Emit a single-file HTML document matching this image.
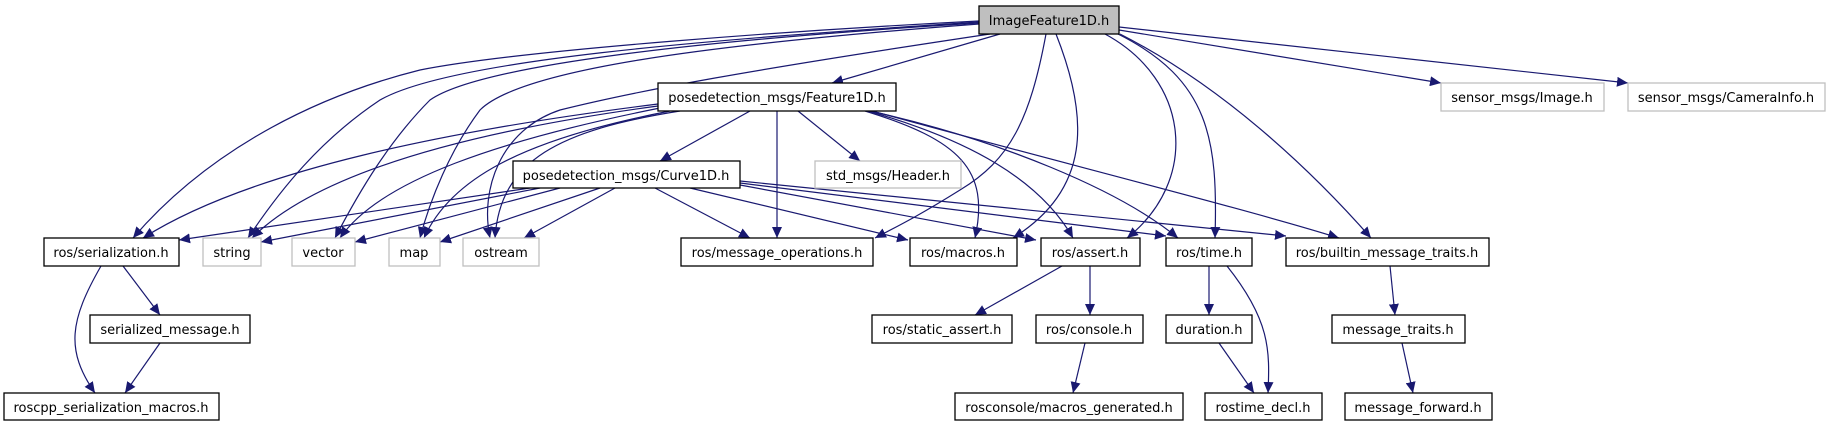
<!DOCTYPE html>
<html><head><meta charset="utf-8"><style>
html,body{margin:0;padding:0;background:#fff;}
svg{display:block;}
text{font-family:"DejaVu Sans","Liberation Sans",sans-serif;font-size:13px;fill:#000;}
.b{fill:#fff;stroke:#000;stroke-width:1.3;}
.g{fill:#fff;stroke:#bfbfbf;stroke-width:1.3;}
.e{fill:none;stroke:#191970;stroke-width:1.2;}
</style></head><body>
<svg width="1831" height="427" viewBox="0 0 1831 427" xmlns="http://www.w3.org/2000/svg">
<defs>
<marker id="a" markerUnits="userSpaceOnUse" markerWidth="12" markerHeight="10" refX="11" refY="5" orient="auto">
<path d="M0,0 L11,5 L0,10 z" fill="#191970"/>
</marker>
</defs>
<g class="e" marker-end="url(#a)">
<!-- ImageFeature1D edges -->
<path d="M1000,34 L832,83"/>
<path d="M979,21 C800,30 520,50 420,70 C300,100 200,160 133,238"/>
<path d="M979,22 C700,40 450,60 380,100 C320,140 280,190 248,238"/>
<path d="M979,23 C700,40 480,65 430,100 C390,140 360,190 335,238"/>
<path d="M979,24 C700,45 520,70 480,110 C450,150 430,200 420,238"/>
<path d="M990,34 C750,70 640,90 560,110 C500,130 480,190 490,238"/>
<path d="M1046,34 C1030,120 1010,160 960,190 C920,215 900,225 875,238"/>
<path d="M1056,34 C1090,120 1090,190 1013,238"/>
<path d="M1105,34 C1190,80 1200,180 1127,238"/>
<path d="M1118,34 C1210,80 1218,140 1215,238"/>
<path d="M1120,34 C1230,90 1320,180 1371,238"/>
<path d="M1119,30 L1441,83"/>
<path d="M1119,27 L1628,83"/>
<!-- Feature1D edges -->
<path d="M750,111 L660,161"/>
<path d="M798,111 L860,161"/>
<path d="M777,111 L777,238"/>
<path d="M658,104 C450,130 250,170 143,238"/>
<path d="M658,106 C480,130 320,170 252,238"/>
<path d="M660,108 C500,140 380,180 340,238"/>
<path d="M670,111 C520,140 450,180 424,238"/>
<path d="M680,111 C560,130 500,160 495,238"/>
<path d="M865,111 C960,140 990,170 975,238"/>
<path d="M868,111 C970,140 1040,180 1073,238"/>
<path d="M870,111 C1000,140 1120,190 1178,238"/>
<path d="M872,111 C1050,160 1250,210 1339,238"/>
<!-- Curve1D edges -->
<path d="M530,188 L179,240"/>
<path d="M540,188 L261,242"/>
<path d="M560,188 L355,242"/>
<path d="M600,188 L440,242"/>
<path d="M615,188 L524,238"/>
<path d="M655,188 L750,238"/>
<path d="M690,188 L908,240"/>
<path d="M740,185 L1036,240"/>
<path d="M740,183 L1166,236"/>
<path d="M740,181 L1286,236"/>
<!-- lower edges -->
<path d="M123,266 L160,315"/>
<path d="M101,266 C70,320 65,350 95,393"/>
<path d="M160,343 L125,393"/>
<path d="M1062,266 L975,315"/>
<path d="M1090,266 L1090,315"/>
<path d="M1085,343 L1073,393"/>
<path d="M1209,266 L1209,315"/>
<path d="M1227,266 C1270,320 1270,350 1268,393"/>
<path d="M1219,343 L1254,393"/>
<path d="M1390,266 L1395,315"/>
<path d="M1402,343 L1413,393"/>
</g>
<!-- nodes -->
<rect x="979" y="6" width="140" height="28" fill="#bfbfbf" stroke="#000" stroke-width="1.3"/>
<text x="1049" y="25" text-anchor="middle">ImageFeature1D.h</text>

<rect class="b" x="658" y="83" width="238" height="28"/><text x="777" y="102" text-anchor="middle">posedetection_msgs/Feature1D.h</text>
<rect class="g" x="1441" y="83" width="163" height="28"/><text x="1522" y="102" text-anchor="middle">sensor_msgs/Image.h</text>
<rect class="g" x="1628" y="83" width="197" height="28"/><text x="1726" y="102" text-anchor="middle">sensor_msgs/CameraInfo.h</text>

<rect class="b" x="513" y="161" width="227" height="27"/><text x="626" y="180" text-anchor="middle">posedetection_msgs/Curve1D.h</text>
<rect class="g" x="815" y="161" width="146" height="27"/><text x="888" y="180" text-anchor="middle">std_msgs/Header.h</text>

<rect class="b" x="44" y="238" width="135" height="28"/><text x="111" y="257" text-anchor="middle">ros/serialization.h</text>
<rect class="g" x="203" y="238" width="58" height="28"/><text x="232" y="257" text-anchor="middle">string</text>
<rect class="g" x="292" y="238" width="63" height="28"/><text x="323" y="257" text-anchor="middle">vector</text>
<rect class="g" x="389" y="238" width="51" height="28"/><text x="414" y="257" text-anchor="middle">map</text>
<rect class="g" x="463" y="238" width="76" height="28"/><text x="501" y="257" text-anchor="middle">ostream</text>
<rect class="b" x="681" y="238" width="192" height="28"/><text x="777" y="257" text-anchor="middle">ros/message_operations.h</text>
<rect class="b" x="910" y="238" width="107" height="28"/><text x="963" y="257" text-anchor="middle">ros/macros.h</text>
<rect class="b" x="1041" y="238" width="99" height="28"/><text x="1090" y="257" text-anchor="middle">ros/assert.h</text>
<rect class="b" x="1166" y="238" width="86" height="28"/><text x="1209" y="257" text-anchor="middle">ros/time.h</text>
<rect class="b" x="1286" y="238" width="203" height="28"/><text x="1387" y="257" text-anchor="middle">ros/builtin_message_traits.h</text>

<rect class="b" x="90" y="315" width="160" height="28"/><text x="170" y="334" text-anchor="middle">serialized_message.h</text>
<rect class="b" x="872" y="315" width="140" height="28"/><text x="942" y="334" text-anchor="middle">ros/static_assert.h</text>
<rect class="b" x="1036" y="315" width="107" height="28"/><text x="1089" y="334" text-anchor="middle">ros/console.h</text>
<rect class="b" x="1166" y="315" width="86" height="28"/><text x="1209" y="334" text-anchor="middle">duration.h</text>
<rect class="b" x="1332" y="315" width="133" height="28"/><text x="1398" y="334" text-anchor="middle">message_traits.h</text>

<rect class="b" x="4" y="393" width="215" height="27"/><text x="111" y="412" text-anchor="middle">roscpp_serialization_macros.h</text>
<rect class="b" x="955" y="393" width="228" height="27"/><text x="1069" y="412" text-anchor="middle">rosconsole/macros_generated.h</text>
<rect class="b" x="1205" y="393" width="117" height="27"/><text x="1263" y="412" text-anchor="middle">rostime_decl.h</text>
<rect class="b" x="1345" y="393" width="147" height="27"/><text x="1418" y="412" text-anchor="middle">message_forward.h</text>
</svg>
</body></html>
